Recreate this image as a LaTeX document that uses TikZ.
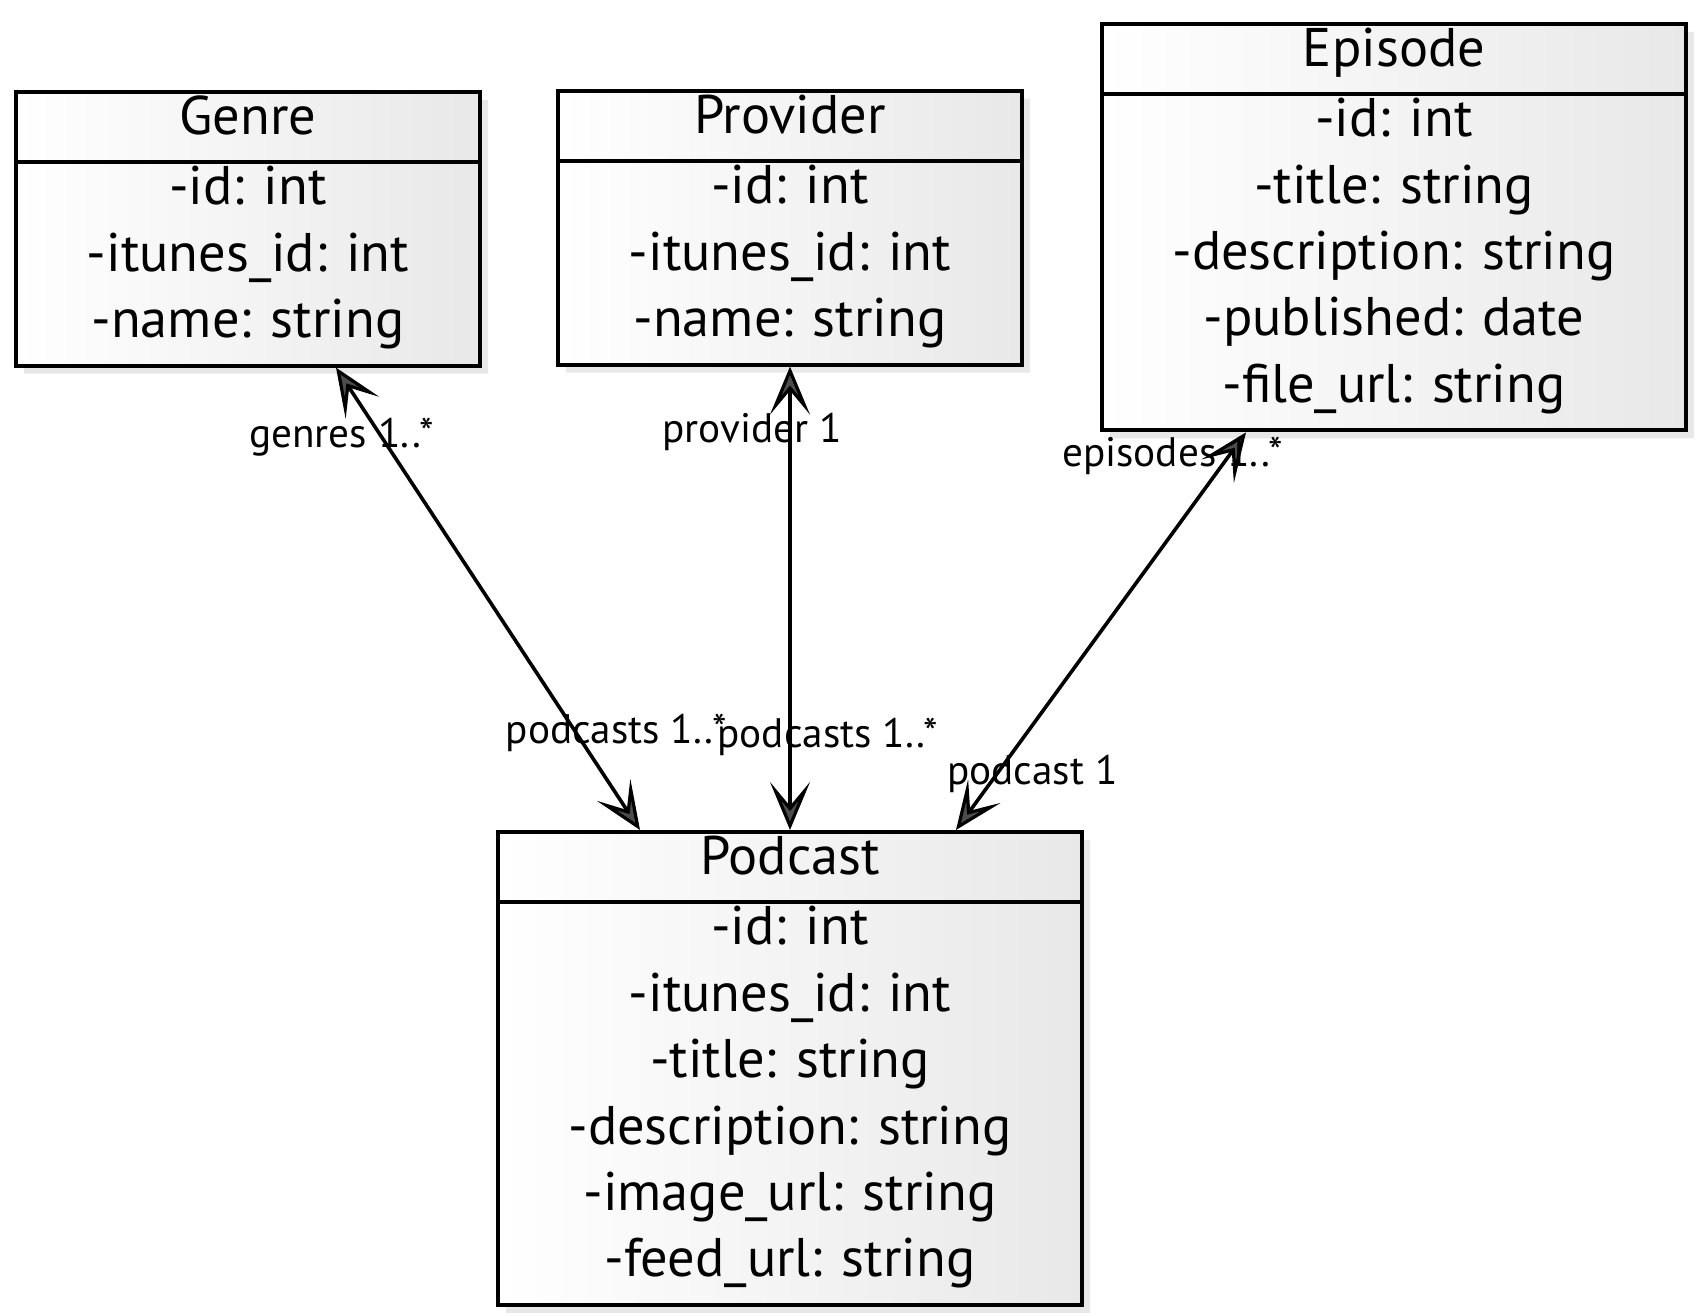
\documentclass[tikz,border=0pt]{standalone}
\usepackage{fontspec}
\setmainfont{PT Sans}
\usepackage{array}
\usetikzlibrary{shapes.multipart,shadows,arrows.meta}

\newcommand{\umlstrut}{\rule[-6.5pt]{0pt}{16.6pt}}
\newcommand{\umlrows}[1]{{\renewcommand{\arraystretch}{0.5}%
  \begin{tabular}{@{}>{\umlstrut}c@{}}#1\end{tabular}}}

\tikzset{
  umlclass/.style={rectangle split, rectangle split parts=2, draw=black,
    line width=1pt, inner xsep=0pt, inner ysep=0pt, minimum width=#1,
    left color=white, right color=black!9, anchor=north,
    drop shadow={shadow xshift=2pt, shadow yshift=-2pt, opacity=0.18},
    font=\fontsize{13.6}{15}\selectfont},
  umltip/.tip={Stealth[length=12pt, width=10pt, inset=6pt, fill=black!70, line width=0.8pt]},
  assoc/.style={line width=0.9pt, draw=black, umltip-umltip},
  role/.style={font=\fontsize{10.3}{12}\selectfont, inner sep=1pt}
}

\begin{document}
\begin{tikzpicture}[x=0.25pt, y=-0.25pt]
\fill[white] (0,0) rectangle (1706,1316);
\useasboundingbox (0,0) rectangle (1706,1316);

% classes
\node[umlclass=116pt] (genre) at (248,90)
  {\umlrows{Genre}\nodepart{two}\umlrows{-id: int\\ -itunes\_id: int\\ -name: string}};
\node[umlclass=116pt] (provider) at (790,89)
  {\umlrows{Provider}\nodepart{two}\umlrows{-id: int\\ -itunes\_id: int\\ -name: string}};
\node[umlclass=146pt] (episode) at (1394,22)
  {\umlrows{Episode}\nodepart{two}\umlrows{-id: int\\ -title: string\\ -description: string\\ -published: date\\ -file\_url: string}};
\node[umlclass=146pt] (podcast) at (790,830)
  {\umlrows{Podcast}\nodepart{two}\umlrows{-id: int\\ -itunes\_id: int\\ -title: string\\ -description: string\\ -image\_url: string\\ -feed\_url: string}};

% associations
\draw[assoc] ([xshift=22pt]genre.south) --
  node[role, pos=0.15, xshift=-10pt] {genres 1..*}
  node[role, pos=0.79, xshift=10pt] {podcasts 1..*}
  ([xshift=-37.5pt]podcast.north);
\draw[assoc] (provider.south) --
  node[role, pos=0.14, xshift=-9.5pt] {provider 1}
  node[role, pos=0.8, xshift=9.5pt] {podcasts 1..*}
  (podcast.north);
\draw[assoc] ([xshift=-37pt]episode.south) --
  node[role, pos=0.06, xshift=-14pt] {episodes 1..*}
  node[role, pos=0.86, xshift=9pt] {podcast 1}
  ([xshift=41.5pt]podcast.north);
\end{tikzpicture}
\end{document}
